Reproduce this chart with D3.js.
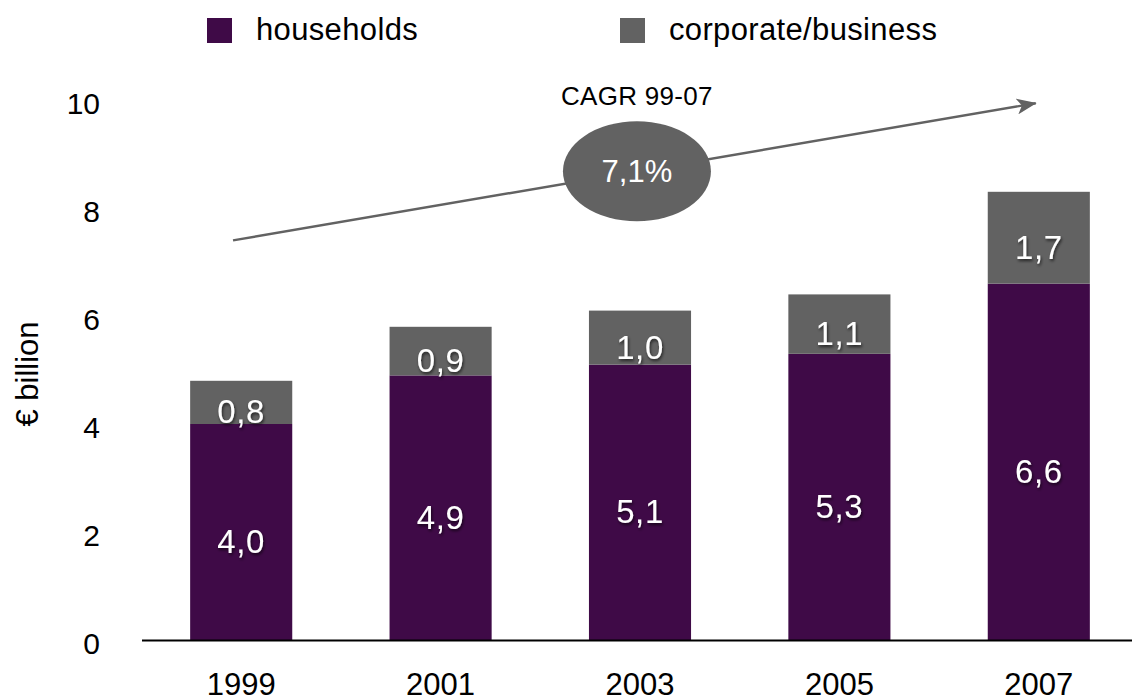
<!DOCTYPE html>
<html>
<head>
<meta charset="utf-8">
<script src="https://cdn.jsdelivr.net/npm/d3@7"></script>
<style>
  html, body { margin: 0; padding: 0; background: #fff; }
  svg { display: block; font-family: "Liberation Sans", Arial, Helvetica, sans-serif; }
</style>
</head>
<body>
<svg id="chart" width="1132" height="697"></svg>
<script>
// Revenue split by customer type, € billion
const years = ["1999", "2001", "2003", "2005", "2007"];
const households = [4.0, 4.9, 5.1, 5.3, 6.6];
const corporate = [0.8, 0.9, 1.0, 1.1, 1.7];
const yTicks = [0, 2, 4, 6, 8, 10];
const seriesNames = ["households", "corporate/business"];
const seriesColors = ["#3f0a47", "#626262"];
const cagrTitle = "CAGR 99-07";
const cagrValue = "7,1%";
// Trend arrow anchors: [band, position inside band (0..1), value]
const trendStart = ["1999", 0.42, 7.4];
const trendEnd = ["2007", 0.47, 9.94];
const bubbleAt = ["2003", 0.47, 8.68];

const fmt = v => v.toFixed(1).replace(".", ",");

const svg = d3.select("#chart");

const x = d3.scaleBand()
  .domain(years)
  .range([141.5, 1138.5])
  .paddingInner(0.488)
  .paddingOuter(0.244);

const y = d3.scaleLinear().domain([0, 10]).range([640, 100]);

// Drop shadow used by the value labels
const defs = svg.append("defs");
const f = defs.append("filter").attr("id", "shadow")
  .attr("x", "-20%").attr("y", "-20%").attr("width", "140%").attr("height", "140%");
f.append("feDropShadow")
  .attr("dx", 1).attr("dy", 2).attr("stdDeviation", 1.5)
  .attr("flood-color", "#000").attr("flood-opacity", 0.65);

defs.append("marker")
  .attr("id", "arrowhead")
  .attr("viewBox", "0 -8 20 16")
  .attr("refX", 19).attr("refY", 0)
  .attr("markerWidth", 20).attr("markerHeight", 16)
  .attr("markerUnits", "userSpaceOnUse")
  .attr("orient", "auto")
  .append("path")
  .attr("d", "M0,-8 L20,0 L0,8 L5,0 Z")
  .attr("fill", "#626262");

// Stacked data
const rows = years.map((yr, i) => ({ year: yr, households: households[i], corporate: corporate[i] }));
const stack = d3.stack().keys(["households", "corporate"]);
const layers = stack(rows);

const g = svg.append("g");
layers.forEach((layer, li) => {
  g.append("g")
    .attr("fill", seriesColors[li])
    .selectAll("rect")
    .data(layer)
    .join("rect")
    .attr("x", d => x(d.data.year))
    .attr("y", d => y(d[1]))
    .attr("width", x.bandwidth())
    .attr("height", d => y(d[0]) - y(d[1]));
});

// Value labels inside segments
layers.forEach((layer, li) => {
  g.append("g")
    .selectAll("text")
    .data(layer)
    .join("text")
    .attr("x", d => x(d.data.year) + x.bandwidth() / 2)
    .attr("y", d => (y(d[0]) + y(d[1])) / 2 + 21)
    .attr("text-anchor", "middle")
    .attr("fill", "#fff")
    .attr("font-size", 33)
    .attr("letter-spacing", 0.6)
    .attr("filter", "url(#shadow)")
    .text(d => fmt(d[1] - d[0]));
});

// X axis (baseline + year labels)
const xAxis = svg.append("g")
  .attr("transform", `translate(0,${y(0)})`)
  .call(d3.axisBottom(x).tickSize(0).tickPadding(0));
xAxis.select(".domain").attr("stroke", "#000").attr("stroke-width", 2);
xAxis.selectAll(".tick text")
  .attr("font-size", 31)
  .attr("font-family", "Liberation Sans, Arial, sans-serif")
  .attr("fill", "#000")
  .attr("dy", null)
  .attr("y", 55);

// Y axis (labels only)
const yAxis = svg.append("g")
  .attr("transform", "translate(100,0)")
  .call(d3.axisLeft(y).tickValues(yTicks).tickSize(0).tickPadding(0).tickFormat(d3.format("d")));
yAxis.select(".domain").remove();
yAxis.selectAll(".tick text")
  .attr("font-size", 30)
  .attr("font-family", "Liberation Sans, Arial, sans-serif")
  .attr("fill", "#000")
  .attr("dy", "0.45em");

// Y axis title
svg.append("text")
  .attr("transform", "translate(38,374) rotate(-90)")
  .attr("text-anchor", "middle")
  .attr("font-size", 31)
  .attr("fill", "#000")
  .text("€ billion");

// Legend
const legendX = [207, 620];
seriesNames.forEach((name, i) => {
  svg.append("rect")
    .attr("x", legendX[i]).attr("y", 18)
    .attr("width", 25).attr("height", 25)
    .attr("fill", seriesColors[i]);
  svg.append("text")
    .attr("x", legendX[i] + 49).attr("y", 40)
    .attr("font-size", 31)
    .attr("letter-spacing", 0.35)
    .attr("fill", "#000")
    .text(name);
});

// CAGR trend arrow
const px = a => x(a[0]) + x.bandwidth() * a[1];
svg.append("line")
  .attr("x1", px(trendStart)).attr("y1", y(trendStart[2]))
  .attr("x2", px(trendEnd)).attr("y2", y(trendEnd[2]))
  .attr("stroke", "#626262").attr("stroke-width", 2.4)
  .attr("marker-end", "url(#arrowhead)");

const bx = px(bubbleAt), by = y(bubbleAt[2]);
svg.append("ellipse")
  .attr("cx", bx).attr("cy", by)
  .attr("rx", 74).attr("ry", 50)
  .attr("fill", "#626262");
svg.append("text")
  .attr("x", bx).attr("y", by + 11)
  .attr("text-anchor", "middle")
  .attr("font-size", 31)
  .attr("fill", "#fff")
  .text(cagrValue);
svg.append("text")
  .attr("x", bx).attr("y", by - 66)
  .attr("text-anchor", "middle")
  .attr("font-size", 26)
  .attr("letter-spacing", 0.3)
  .attr("fill", "#000")
  .text(cagrTitle);
</script>
</body>
</html>
